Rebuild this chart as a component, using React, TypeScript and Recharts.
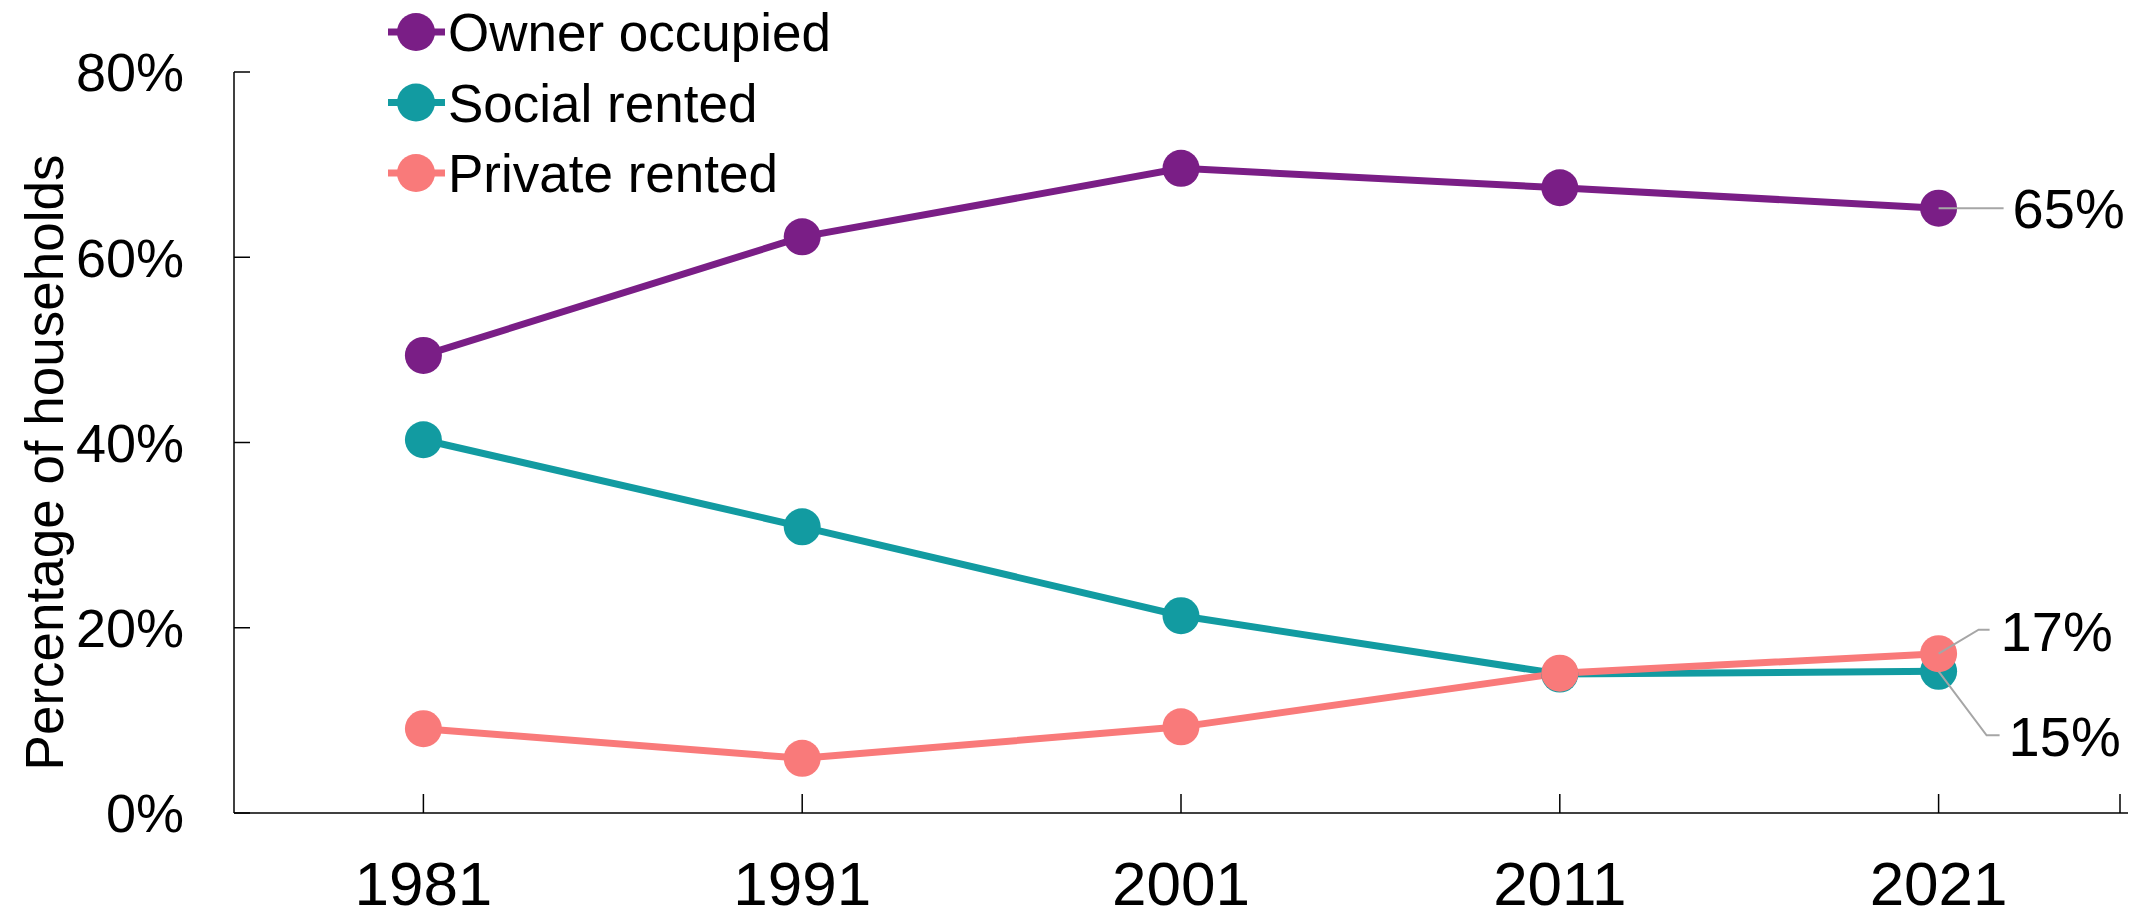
import { LineChart, Line, XAxis, YAxis, Legend, LabelList } from 'recharts';

const years = [1981, 1991, 2001, 2011, 2021];
const ownerOccupied = [49.4, 62.2, 69.6, 67.5, 65.3];
const socialRented = [40.3, 30.9, 21.3, 15.0, 15.3];
const privateRented = [9.1, 5.9, 9.3, 15.1, 17.2];
const yTicks = [0, 20, 40, 60, 80];

const FONT = '"Liberation Sans", Arial, sans-serif';
const W = 2136;
const H = 917;

const data = years.map((year, i) => ({
  year,
  owner: ownerOccupied[i],
  social: socialRented[i],
  private: privateRented[i],
}));

const series = [
  { key: 'owner', name: 'Owner occupied', color: '#7a1e86' },
  { key: 'social', name: 'Social rented', color: '#129ba1' },
  { key: 'private', name: 'Private rented', color: '#f97a7a' },
];

// end-of-line leader lines: points relative to the last marker, then text start
const leaders: Record<string, { pts: [number, number][]; tx: number; ty: number }> = {
  owner: { pts: [[0, 0], [65, 0]], tx: 74, ty: 0 },
  private: { pts: [[0, 0], [40, -24], [51, -24]], tx: 62, ty: -23 },
  social: { pts: [[0, 0], [48, 64], [61, 64]], tx: 70, ty: 65 },
};

const makeEndLabel = (key: string) => (props: any) => {
  const { x, y, index, value } = props;
  if (index !== years.length - 1) return null;
  const l = leaders[key];
  const d = l.pts.map((p, i) => `${i ? 'L' : 'M'}${x + p[0]},${y + p[1]}`).join(' ');
  return (
    <g>
      <path d={d} fill="none" stroke="#a6a6a6" strokeWidth={2} />
      <text x={x + l.tx} y={y + l.ty} dy="0.36em" fontSize={56} fontFamily={FONT} fill="#000">
        {Math.round(value)}%
      </text>
    </g>
  );
};

const XTick = ({ x, y, payload }: any) => (
  <g>
    <line x1={x} x2={x} y1={y} y2={y - 19} stroke="#000" strokeWidth={1.5} />
    {years.includes(payload.value) && (
      <text x={x} y={y + 92} textAnchor="middle" fontSize={62} fontFamily={FONT} fill="#000">
        {payload.value}
      </text>
    )}
  </g>
);

const YTick = ({ x, y, payload }: any) => (
  <g>
    <line x1={x} x2={x + 16} y1={y} y2={y} stroke="#000" strokeWidth={1.5} />
    <text x={x - 50} y={y} dy="0.36em" textAnchor="end" fontSize={54} fontFamily={FONT} fill="#000">
      {payload.value}%
    </text>
  </g>
);

const YTitle = ({ viewBox }: any) => {
  const cx = viewBox.x + 44;
  const cy = viewBox.y + viewBox.height / 2 + 20;
  return (
    <text
      x={cx}
      y={cy}
      transform={`rotate(-90, ${cx}, ${cy})`}
      textAnchor="middle"
      dy="0.36em"
      fontSize={53}
      fontFamily={FONT}
      fill="#000"
    >
      Percentage of households
    </text>
  );
};

const LegendContent = () => (
  <svg width={900} height={210}>
    {series.map((item, i) => {
      const cy = 32 + i * 70.5;
      return (
        <g key={item.key}>
          <line x1={388} x2={445} y1={cy} y2={cy} stroke={item.color} strokeWidth={7} />
          <circle cx={416} cy={cy} r={19} fill={item.color} />
          <text x={448} y={cy} dy="0.36em" fontSize={53} fontFamily={FONT} fill="#000">
            {item.name}
          </text>
        </g>
      );
    })}
  </svg>
);

export default function App() {
  return (
    <div style={{ position: 'absolute', left: 0, top: 0, width: W, height: H, background: '#fff' }}>
      <LineChart width={W} height={H} data={data} margin={{ top: 72, right: 8, bottom: 0, left: 0 }}>
        <XAxis
          dataKey="year"
          type="number"
          domain={[years[0] - 5, years[years.length - 1] + 5]}
          ticks={[...years, years[years.length - 1] + 5]}
          height={104}
          tickSize={0}
          tickMargin={0}
          tick={<XTick />}
          axisLine={{ stroke: '#000', strokeWidth: 1.5 }}
          tickLine={false}
        />
        <YAxis
          domain={[0, 80]}
          ticks={yTicks}
          width={234}
          tickSize={0}
          tickMargin={0}
          tick={<YTick />}
          axisLine={{ stroke: '#000', strokeWidth: 1.5 }}
          tickLine={false}
          label={<YTitle />}
        />
        <Legend
          layout="vertical"
          align="center"
          verticalAlign="middle"
          wrapperStyle={{ top: 0, left: 0, width: 900, height: 210 }}
          content={<LegendContent />}
        />
        {series.map((s) => (
          <Line
            key={s.key}
            type="linear"
            dataKey={s.key}
            name={s.name}
            stroke={s.color}
            strokeWidth={7}
            dot={{ r: 18.5, fill: s.color, stroke: 'none' }}
            activeDot={false}
            isAnimationActive={false}
          >
            <LabelList dataKey={s.key} content={makeEndLabel(s.key)} />
          </Line>
        ))}
      </LineChart>
    </div>
  );
}
